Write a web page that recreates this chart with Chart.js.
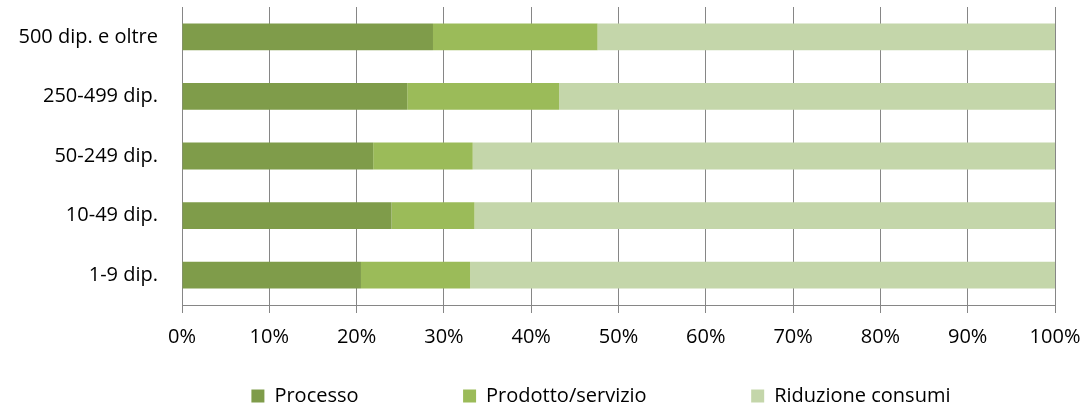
<!DOCTYPE html>
<html>
<head>
<meta charset="utf-8">
<script src="https://cdn.jsdelivr.net/npm/chart.js@4/dist/chart.umd.min.js"></script>
<style>
  html, body { margin: 0; padding: 0; background: #fff; }
  #wrap { width: 1087px; height: 408px; position: relative; }
</style>
</head>
<body>
<div id="wrap"><canvas id="c"></canvas></div>
<script>
const categories = ['500 dip. e oltre', '250-499 dip.', '50-249 dip.', '10-49 dip.', '1-9 dip.'];
const seriesNames = ['Processo', 'Prodotto/servizio', 'Riduzione consumi'];
const processo = [28.75, 25.8, 21.9, 24.0, 20.5];
const prodotto = [18.85, 17.4, 11.4, 9.5, 12.5];
const riduzione = [52.4, 56.8, 66.7, 66.5, 67.0];
const xTickValues = [0, 10, 20, 30, 40, 50, 60, 70, 80, 90, 100];
const xTickLabels = ['0%', '10%', '20%', '30%', '40%', '50%', '60%', '70%', '80%', '90%', '100%'];

const colors = ['#7F9C4A', '#9BBB59', '#C4D6AA'];
const FONT = "'Open Sans', 'Noto Sans', sans-serif";
const GRID = '#868686';
const PLOT_LEFT = 182;
const X_AXIS_HEIGHT = 44;
const legendGap = '\u00A0'.repeat(13);

const chart = new Chart(document.getElementById('c'), {
  type: 'bar',
  data: {
    labels: categories,
    datasets: [
      { label: seriesNames[0], data: processo, backgroundColor: colors[0] },
      { label: seriesNames[1], data: prodotto, backgroundColor: colors[1] },
      { label: seriesNames[2], data: riduzione, backgroundColor: colors[2] }
    ]
  },
  options: {
    indexAxis: 'y',
    responsive: true,
    maintainAspectRatio: false,
    animation: false,
    datasets: { bar: { barPercentage: 0.45, categoryPercentage: 1.0, borderWidth: 0 } },
    layout: { padding: { left: 0, right: 32, top: 7, bottom: -8 } },
    scales: {
      x: {
        stacked: true,
        min: 0,
        max: 100,
        afterBuildTicks: (scale) => { scale.ticks = xTickValues.map(v => ({ value: v })); },
        afterFit: (scale) => {
          scale.height = X_AXIS_HEIGHT;
          scale.paddingLeft = 0;
          scale.paddingRight = 0;
        },
        ticks: {
          color: '#000',
          font: { family: FONT, size: 20 },
          padding: 12,
          maxRotation: 0,
          autoSkip: false,
          callback: (v, i) => xTickLabels[i]
        },
        grid: { color: GRID, lineWidth: 1, tickLength: 8, drawTicks: true },
        border: { display: true, color: GRID, width: 1 }
      },
      y: {
        stacked: true,
        afterFit: (scale) => {
          scale.width = PLOT_LEFT;
          scale.paddingTop = 0;
          scale.paddingBottom = 0;
        },
        ticks: {
          color: '#000',
          font: { family: FONT, size: 20 },
          padding: 24,
          autoSkip: false
        },
        grid: { display: false, drawTicks: false, tickLength: 0 },
        border: { display: true, color: GRID, width: 1 }
      }
    },
    plugins: {
      tooltip: { enabled: false },
      legend: {
        position: 'bottom',
        align: 'end',
        labels: {
          color: '#000',
          font: { family: FONT, size: 20 },
          boxWidth: 13,
          boxHeight: 13,
          padding: 37,
          generateLabels: (ch) => ch.data.datasets.map((ds, i) => ({
            text: ds.label + legendGap,
            fillStyle: ds.backgroundColor,
            strokeStyle: ds.backgroundColor,
            lineWidth: 0,
            hidden: false,
            datasetIndex: i
          }))
        }
      }
    }
  }
});
</script>
</body>
</html>
